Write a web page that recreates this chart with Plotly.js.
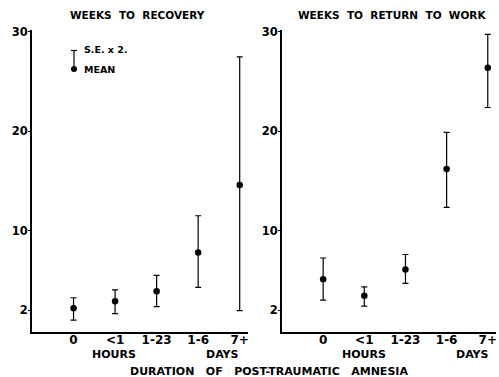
<!DOCTYPE html>
<html>
<head>
<meta charset="utf-8">
<script src="https://cdn.plot.ly/plotly-3.0.1.min.js"></script>
<style>
html,body{margin:0;padding:0;background:#fff;}
#chart{width:499px;height:377px;}
</style>
</head>
<body>
<div id="chart"></div>
<script>
// Categories: duration of post-traumatic amnesia
const categories = ['0', '<1', '1-23', '1-6', '7+'];

// Weeks to recovery (mean and ±2 S.E. limits)
const recoveryMean  = [2.2, 2.9, 3.9, 7.8, 14.6];
const recoveryUpper = [3.25, 4.05, 5.5, 11.5, 27.5];
const recoveryLower = [1.0, 1.65, 2.35, 4.3, 1.95];

// Weeks to return to work (mean and ±2 S.E. limits)
const workMean  = [5.1, 3.45, 6.1, 16.2, 26.4];
const workUpper = [7.25, 4.35, 7.6, 19.9, 29.75];
const workLower = [3.0, 2.4, 4.7, 12.35, 22.4];

// Y tick labels
const yTicks = [2, 10, 20, 30];

const FONT = 'DejaVu Sans, Liberation Sans, Arial, sans-serif';

function errTrace(mean, upper, lower, xa, ya) {
  return {
    type: 'scatter', mode: 'markers',
    x: categories, y: mean, xaxis: xa, yaxis: ya,
    marker: {color: '#000', size: 6.5},
    error_y: {
      type: 'data', symmetric: false,
      array: upper.map((u, i) => u - mean[i]),
      arrayminus: lower.map((l, i) => mean[i] - l),
      color: '#000', thickness: 1.2, width: 3
    },
    showlegend: false, hoverinfo: 'skip'
  };
}

const data = [
  errTrace(recoveryMean, recoveryUpper, recoveryLower, 'x', 'y'),
  errTrace(workMean, workUpper, workLower, 'x2', 'y2')
];

const W = 499, H = 377;
const px = v => v / W, py = v => 1 - v / H;

const xBase = {
  type: 'category', categoryorder: 'array', categoryarray: categories,
  range: [-1.0, 4.2], showgrid: false, zeroline: false,
  showline: true, linecolor: '#000', linewidth: 2,
  ticks: '', ticklabelstandoff: -4,
  tickfont: {family: FONT, size: 12, color: '#000', weight: 'bold'},
  fixedrange: true
};
const yBase = {
  range: [-0.2, 30.2], domain: [py(332), py(30)],
  tickvals: yTicks, ticktext: yTicks.map(String),
  showgrid: false, zeroline: false,
  showline: true, linecolor: '#000', linewidth: 2,
  ticks: 'outside', ticklen: 2, tickwidth: 1, tickcolor: '#000',
  ticklabelstandoff: -2,
  tickfont: {family: FONT, size: 11.5, color: '#000', weight: 'bold'},
  fixedrange: true
};

const bold = {family: FONT, size: 10.5, color: '#000', weight: 'bold'};
const boldL = {family: FONT, size: 11, color: '#000', weight: 'bold'};
const small = {family: FONT, size: 9.5, color: '#000', weight: 'bold'};

function ann(text, x, y, font, xanchor) {
  return {text: text, xref: 'paper', yref: 'paper', x: px(x), y: py(y),
          xanchor: xanchor || 'center', yanchor: 'middle', showarrow: false, font: font};
}

const layout = {
  width: W, height: H,
  margin: {l: 0, r: 0, t: 0, b: 0},
  paper_bgcolor: '#fff', plot_bgcolor: '#fff',
  showlegend: false,
  xaxis: Object.assign({}, xBase, {domain: [px(32), px(248)], anchor: 'y'}),
  yaxis: Object.assign({}, yBase, {anchor: 'x'}),
  xaxis2: Object.assign({}, xBase, {domain: [px(282), px(496)], anchor: 'y2'}),
  yaxis2: Object.assign({}, yBase, {anchor: 'x2'}),
  annotations: [
    ann('WEEKS  TO  RECOVERY', 137, 15, bold),
    ann('WEEKS  TO  RETURN  TO  WORK', 392, 15, bold),
    ann('HOURS', 114, 354, boldL),
    ann('DAYS', 222, 354, boldL),
    ann('HOURS', 364, 354, boldL),
    ann('DAYS', 472, 354, boldL),
    ann('DURATION   OF   POST-TRAUMATIC   AMNESIA', 269, 371, boldL),
    ann('S.E. x 2.', 82, 49, small, 'left'),
    ann('MEAN', 82, 69, small, 'left')
  ],
  shapes: [
    // legend glyph: error bar with mean dot
    {type: 'line', xref: 'paper', yref: 'paper', x0: px(74), x1: px(74), y0: py(50.5), y1: py(69), line: {color: '#000', width: 1.2}},
    {type: 'line', xref: 'paper', yref: 'paper', x0: px(71), x1: px(77), y0: py(50.5), y1: py(50.5), line: {color: '#000', width: 1.2}},
    {type: 'circle', xref: 'paper', yref: 'paper', x0: px(71), x1: px(77), y0: py(66), y1: py(72), fillcolor: '#000', line: {color: '#000', width: 0}}
  ]
};

Plotly.newPlot('chart', data, layout, {staticPlot: true, displayModeBar: false});
</script>
</body>
</html>
